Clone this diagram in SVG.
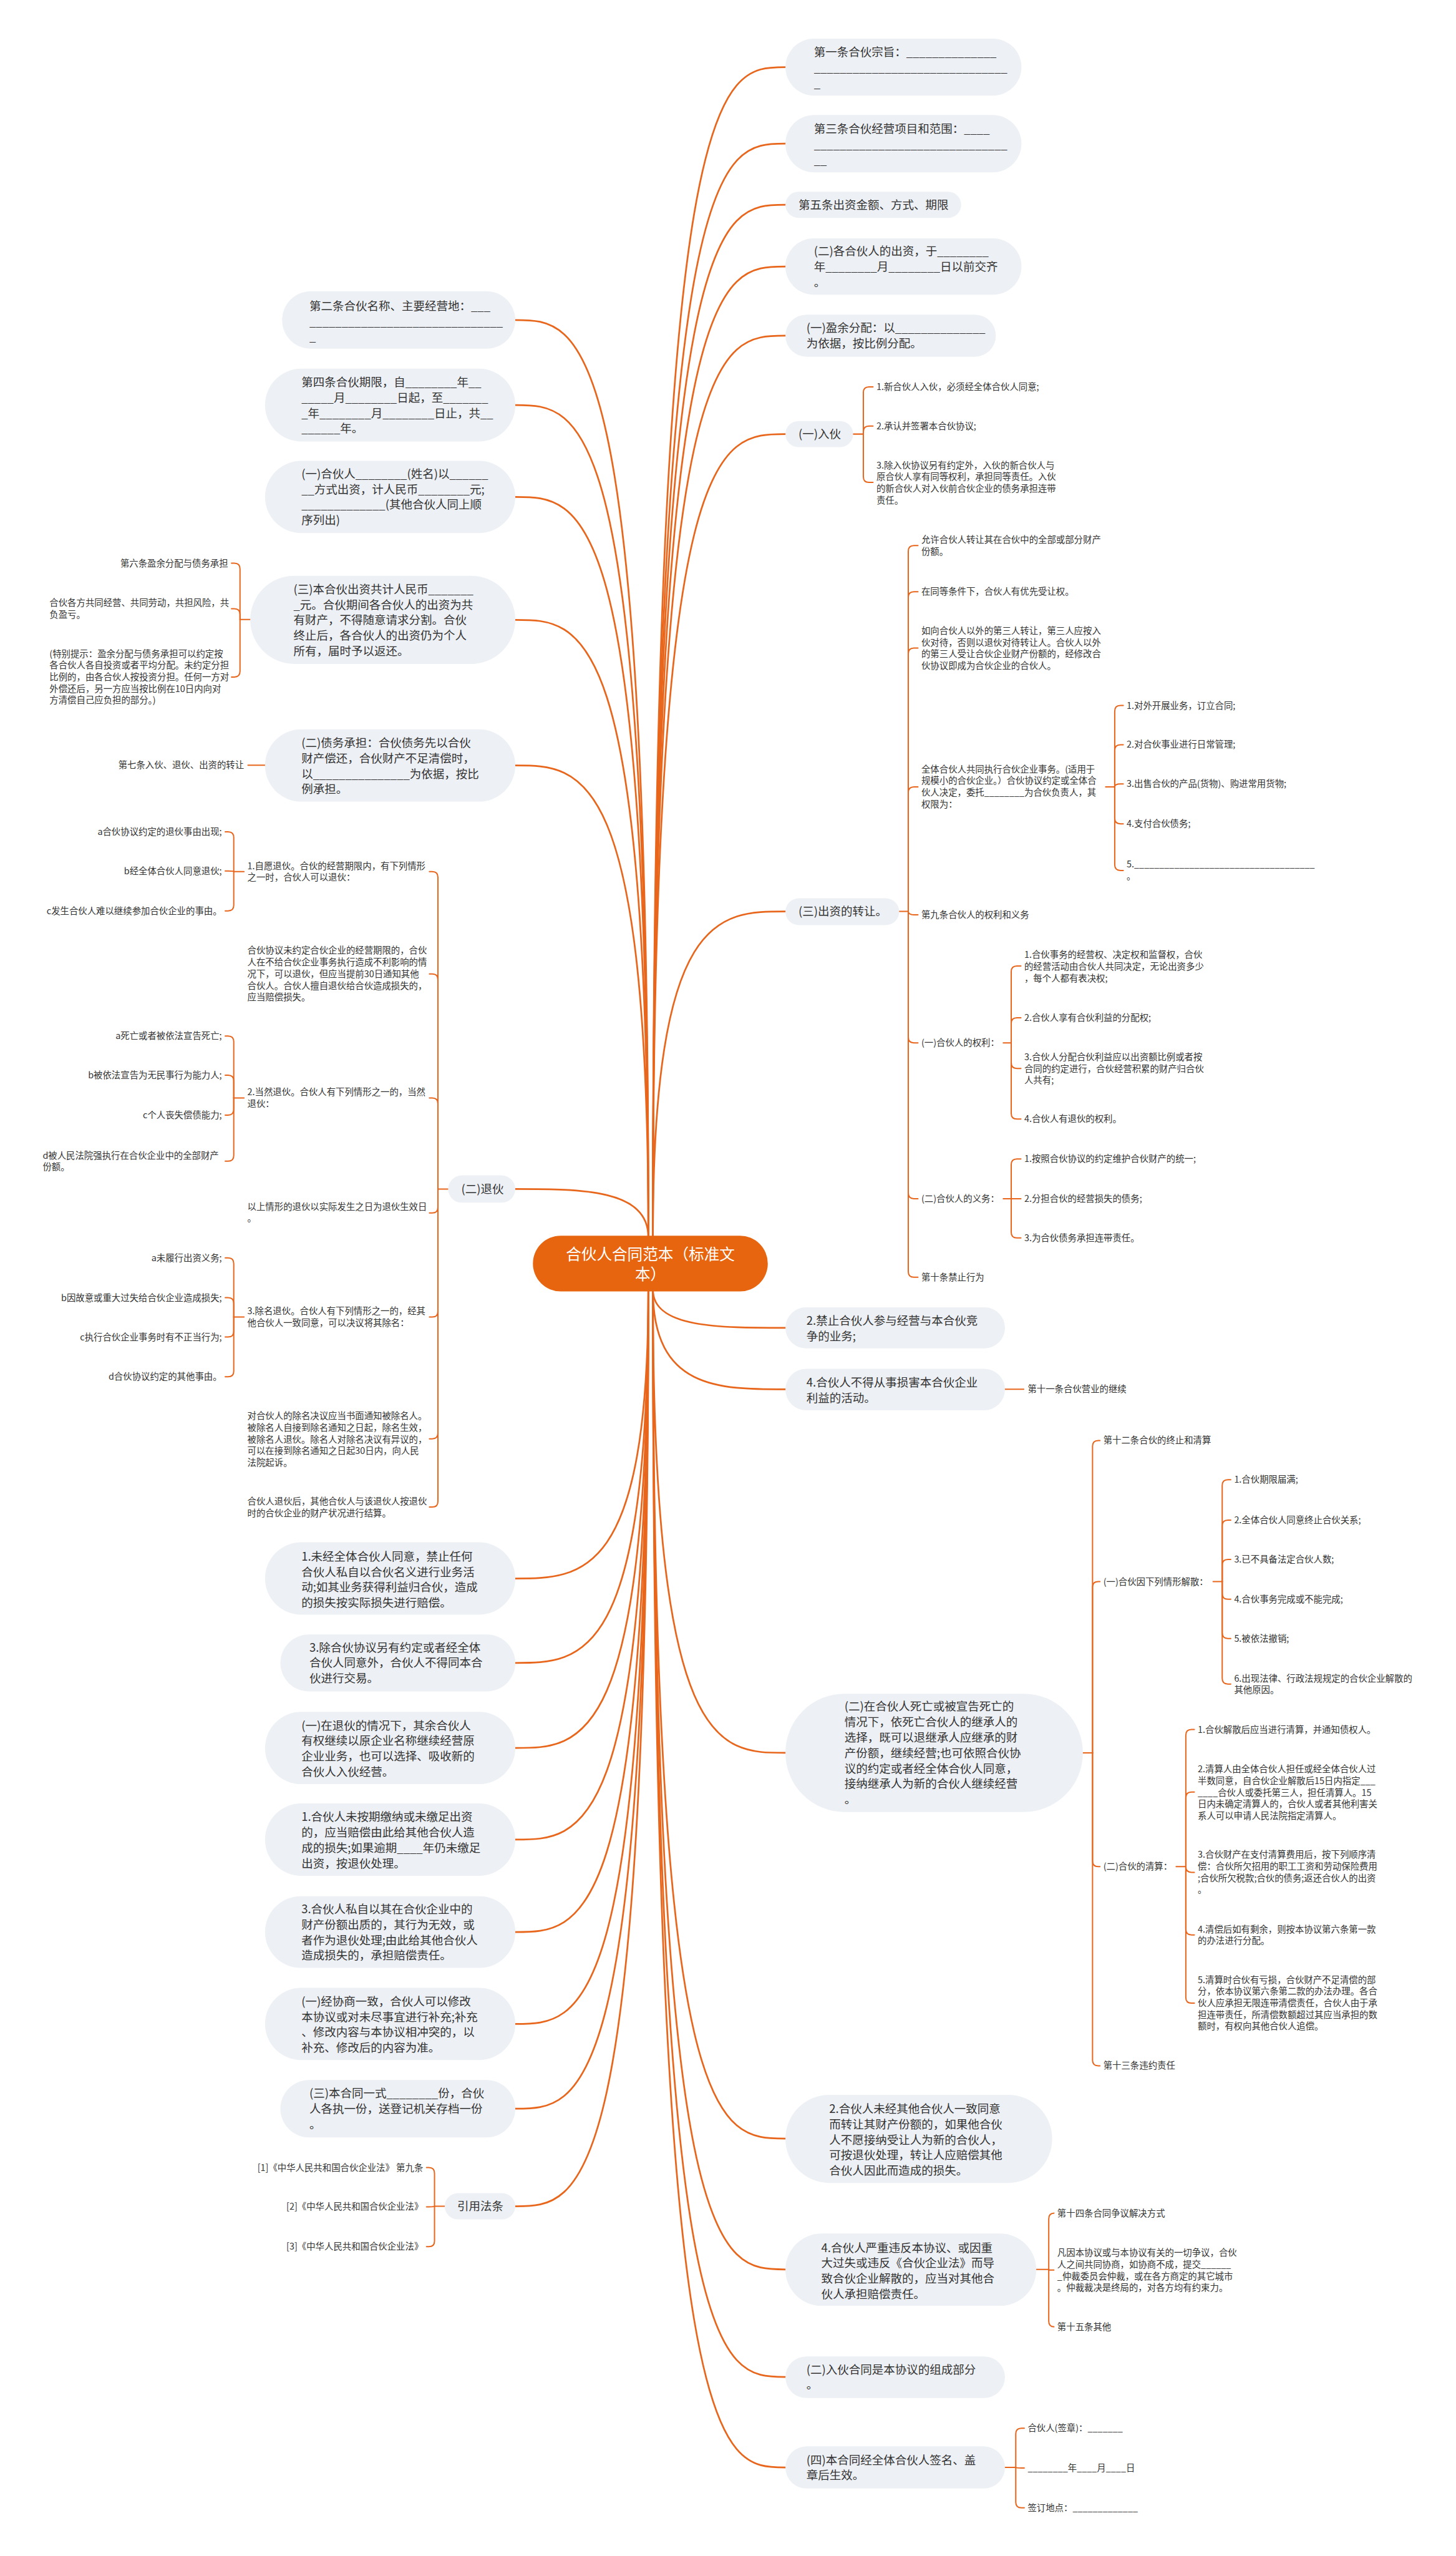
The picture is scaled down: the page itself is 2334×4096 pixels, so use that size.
<svg xmlns="http://www.w3.org/2000/svg" width="2334" height="4096" viewBox="0 0 2334 4096">
<style>
.box{fill:#edf0f4}
.root{fill:#e8650f}
.t0{font-family:"Noto Sans CJK SC",sans-serif;font-size:27px;fill:#fff}
.t1{font-family:"Noto Sans CJK SC",sans-serif;font-size:20.3px;fill:#333}
.t2{font-family:"Noto Sans CJK SC",sans-serif;font-size:15.8px;fill:#333}
.e{text-anchor:end}
#links path{fill:none;stroke:#e8661c;stroke-width:2.2;stroke-linecap:round}
#links .m{stroke-width:3}
</style>
<rect width="2334" height="4096" fill="#fff"/>
<g transform="scale(0.9117)">
<g id="links">
<!-- root connectors left -->
<path class="m" d="M1140 2175C1140 562.5 1023 562.5 906 562.5"/>
<path class="m" d="M1140 2175C1140 712 1023 712 906 712"/>
<path class="m" d="M1140 2175C1140 873.5 1023 873.5 906 873.5"/>
<path class="m" d="M1140 2175C1140 1089.5 1023 1089.5 906 1089.5"/>
<path class="m" d="M1140 2175C1140 1345.5 1023 1345.5 906 1345.5"/>
<path class="m" d="M1140 2175C1140 2090 1023 2090 906 2090"/>
<path class="m" d="M1140 2267C1140 2774.5 1023 2774.5 906 2774.5"/>
<path class="m" d="M1140 2267C1140 2923 1023 2923 906 2923"/>
<path class="m" d="M1140 2267C1140 3072.5 1023 3072.5 906 3072.5"/>
<path class="m" d="M1140 2267C1140 3233.5 1023 3233.5 906 3233.5"/>
<path class="m" d="M1140 2267C1140 3396 1023 3396 906 3396"/>
<path class="m" d="M1140 2267C1140 3557.5 1023 3557.5 906 3557.5"/>
<path class="m" d="M1140 2267C1140 3706.5 1023 3706.5 906 3706.5"/>
<path class="m" d="M1140 2267C1140 3878 1023 3878 906 3878"/>
<!-- root connectors right -->
<path class="m" d="M1148 2175C1148 118 1264 118 1381 118"/>
<path class="m" d="M1148 2175C1148 252.5 1264 252.5 1381 252.5"/>
<path class="m" d="M1148 2175C1148 360 1264 360 1381 360"/>
<path class="m" d="M1148 2175C1148 468.5 1264 468.5 1381 468.5"/>
<path class="m" d="M1148 2175C1148 590 1264 590 1381 590"/>
<path class="m" d="M1148 2175C1148 763 1264 763 1381 763"/>
<path class="m" d="M1148 2175C1148 1602 1264 1602 1381 1602"/>
<path class="m" d="M1148 2267C1148 2334 1264 2334 1381 2334"/>
<path class="m" d="M1148 2267C1148 2442 1264 2442 1381 2442"/>
<path class="m" d="M1148 2267C1148 3081 1264 3081 1381 3081"/>
<path class="m" d="M1148 2267C1148 3759 1264 3759 1381 3759"/>
<path class="m" d="M1148 2267C1148 3989 1264 3989 1381 3989"/>
<path class="m" d="M1148 2267C1148 4178 1264 4178 1381 4178"/>
<path class="m" d="M1148 2267C1148 4337 1264 4337 1381 4337"/>
<!-- (一)入伙 -->
<path d="M1500 763H1518"/>
<path d="M1518 763V690Q1518 680 1528 680H1535"/>
<path d="M1518 763V759Q1518 749 1528 749H1535"/>
<path d="M1518 763V838Q1518 848 1528 848H1535"/>
<!-- (三)出资的转让 -->
<path d="M1581 1602H1597"/>
<path d="M1597 1602V969Q1597 959 1607 959H1614"/>
<path d="M1597 1602V1050Q1597 1040 1607 1040H1614"/>
<path d="M1597 1602V1149Q1597 1139 1607 1139H1614"/>
<path d="M1597 1602V1393Q1597 1383 1607 1383H1614"/>
<path d="M1597 1602Q1597 1608 1607 1608H1614"/>
<path d="M1597 1602V1823Q1597 1833 1607 1833H1614"/>
<path d="M1597 1602V2097Q1597 2107 1607 2107H1614"/>
<path d="M1597 1602V2235Q1597 2245 1607 2245H1614"/>
<!-- 全体合伙人 -->
<path d="M1944 1383H1960"/>
<path d="M1960 1383V1250Q1960 1240 1970 1240H1975"/>
<path d="M1960 1383V1319Q1960 1309 1970 1309H1975"/>
<path d="M1960 1383Q1960 1378 1970 1378H1975"/>
<path d="M1960 1383V1438Q1960 1448 1970 1448H1975"/>
<path d="M1960 1383V1520Q1960 1530 1970 1530H1975"/>
<!-- 合伙人的权利 -->
<path d="M1764 1833H1778"/>
<path d="M1778 1833V1708Q1778 1698 1788 1698H1795"/>
<path d="M1778 1833V1799Q1778 1789 1788 1789H1795"/>
<path d="M1778 1833V1868Q1778 1878 1788 1878H1795"/>
<path d="M1778 1833V1957Q1778 1967 1788 1967H1795"/>
<!-- 合伙人的义务 -->
<path d="M1764 2107H1778"/>
<path d="M1778 2107V2047Q1778 2037 1788 2037H1795"/>
<path d="M1778 2107H1795"/>
<path d="M1778 2107V2166Q1778 2176 1788 2176H1795"/>
<!-- 4.不得 -->
<path d="M1767 2442H1800"/>
<!-- (二)在合伙人死亡 -->
<path d="M1904 3081H1921"/>
<path d="M1921 3081V2542Q1921 2532 1931 2532H1934"/>
<path d="M1921 3081V2790Q1921 2780 1931 2780H1934"/>
<path d="M1921 3081V3271Q1921 3281 1931 3281H1934"/>
<path d="M1921 3081V3621Q1921 3631 1931 3631H1934"/>
<!-- 解散 -->
<path d="M2133 2780H2149"/>
<path d="M2149 2780V2611Q2149 2601 2159 2601H2164"/>
<path d="M2149 2780V2682Q2149 2672 2159 2672H2164"/>
<path d="M2149 2780V2751Q2149 2741 2159 2741H2164"/>
<path d="M2149 2780V2801Q2149 2811 2159 2811H2164"/>
<path d="M2149 2780V2870Q2149 2880 2159 2880H2164"/>
<path d="M2149 2780V2950Q2149 2960 2159 2960H2164"/>
<!-- 清算 -->
<path d="M2068 3281H2085"/>
<path d="M2085 3281V3050Q2085 3040 2095 3040H2100"/>
<path d="M2085 3281V3160Q2085 3150 2095 3150H2100"/>
<path d="M2085 3281Q2085 3291 2095 3291H2100"/>
<path d="M2085 3281V3391Q2085 3401 2095 3401H2100"/>
<path d="M2085 3281V3511Q2085 3521 2095 3521H2100"/>
<!-- 4.严重 -->
<path d="M1822 3989H1844"/>
<path d="M1844 3989V3900Q1844 3890 1854 3890H1853"/>
<path d="M1844 3989V3990H1853"/>
<path d="M1844 3989V4080Q1844 4090 1854 4090H1853"/>
<!-- (四) -->
<path d="M1767 4337H1786"/>
<path d="M1786 4337V4278Q1786 4268 1796 4268H1801"/>
<path d="M1786 4337Q1786 4338 1796 4338H1801"/>
<path d="M1786 4337V4398Q1786 4408 1796 4408H1801"/>
<!-- L4 -->
<path d="M440 1089H422"/>
<path d="M422 1089V1000Q422 990 412 990H407"/>
<path d="M422 1089V1080Q422 1070 412 1070H407"/>
<path d="M422 1089V1180Q422 1190 412 1190H407"/>
<!-- L5 -->
<path d="M466 1345H436"/>
<!-- (二)退伙 -->
<path d="M788 2090H770"/>
<path d="M770 2090V1542Q770 1532 760 1532H755"/>
<path d="M770 2090V1722Q770 1712 760 1712H755"/>
<path d="M770 2090V1940Q770 1930 760 1930H755"/>
<path d="M770 2090V2122Q770 2132 760 2132H755"/>
<path d="M770 2090V2305Q770 2315 760 2315H755"/>
<path d="M770 2090V2519Q770 2529 760 2529H755"/>
<path d="M770 2090V2639Q770 2649 760 2649H755"/>
<!-- 自愿退伙 -->
<path d="M429 1532H411"/>
<path d="M411 1532V1472Q411 1462 401 1462H396"/>
<path d="M411 1532Q411 1531 401 1531H396"/>
<path d="M411 1532V1591Q411 1601 401 1601H396"/>
<!-- 当然退伙 -->
<path d="M429 1930H411"/>
<path d="M411 1930V1831Q411 1821 401 1821H396"/>
<path d="M411 1930V1900Q411 1890 401 1890H396"/>
<path d="M411 1930V1950Q411 1960 401 1960H396"/>
<path d="M411 1930V2031Q411 2041 401 2041H396"/>
<!-- 除名退伙 -->
<path d="M429 2315H411"/>
<path d="M411 2315V2221Q411 2211 401 2211H396"/>
<path d="M411 2315V2291Q411 2281 401 2281H396"/>
<path d="M411 2315V2340Q411 2350 401 2350H396"/>
<path d="M411 2315V2410Q411 2420 401 2420H396"/>
<!-- 引用法条 -->
<path d="M782 3878H764"/>
<path d="M764 3878V3820Q764 3810 754 3810H750"/>
<path d="M764 3878Q764 3879 754 3879H750"/>
<path d="M764 3878V3939Q764 3949 754 3949H750"/>
</g>

<g id="root">
<rect class="root" x="937" y="2172" width="413" height="98" rx="49"/>
<text class="t0" text-anchor="middle"><tspan x="1143.5" y="2214.5">合伙人合同范本（标准文</tspan><tspan x="1143.5" y="2249.5">本）</tspan></text>
</g>

<!-- right level-1 nodes -->
<g id="r1"><rect class="box" x="1381" y="68" width="415" height="100" rx="50"/>
<text class="t1"><tspan x="1431" y="99">第一条合伙宗旨：______________</tspan><tspan x="1431" y="126.2">______________________________</tspan><tspan x="1431" y="153.4">_</tspan></text></g>
<g id="r2"><rect class="box" x="1381" y="202" width="415" height="101" rx="50.5"/>
<text class="t1"><tspan x="1431" y="233.7">第三条合伙经营项目和范围：____</tspan><tspan x="1431" y="260.9">______________________________</tspan><tspan x="1431" y="288.1">__</tspan></text></g>
<g id="r3"><rect class="box" x="1381" y="337" width="309" height="46" rx="23"/>
<text class="t1" x="1404" y="367">第五条出资金额、方式、期限</text></g>
<g id="r4"><rect class="box" x="1381" y="419" width="415" height="99" rx="49.5"/>
<text class="t1"><tspan x="1431" y="449">(二)各合伙人的出资，于________</tspan><tspan x="1431" y="476.2">年________月________日以前交齐</tspan><tspan x="1431" y="503.4">。</tspan></text></g>
<g id="r5"><rect class="box" x="1381" y="553" width="370" height="74" rx="37"/>
<text class="t1"><tspan x="1418" y="584">(一)盈余分配：以______________</tspan><tspan x="1418" y="611.2">为依据，按比例分配。</tspan></text></g>
<g id="r6"><rect class="box" x="1381" y="740" width="119" height="46" rx="23"/>
<text class="t1" x="1404" y="770">(一)入伙</text></g>
<g id="r6c">
<text class="t2" x="1541" y="685.5">1.新合伙人入伙，必须经全体合伙人同意;</text>
<text class="t2" x="1541" y="754.5">2.承认并签署本合伙协议;</text>
<text class="t2"><tspan x="1541" y="823.5">3.除入伙协议另有约定外，入伙的新合伙人与</tspan><tspan x="1541" y="844">原合伙人享有同等权利，承担同等责任。入伙</tspan><tspan x="1541" y="864.5">的新合伙人对入伙前合伙企业的债务承担连带</tspan><tspan x="1541" y="885">责任。</tspan></text>
</g>
<g id="r7"><rect class="box" x="1381" y="1579" width="200" height="47" rx="23.5"/>
<text class="t1" x="1404" y="1609">(三)出资的转让。</text></g>
<g id="r7c">
<text class="t2"><tspan x="1620" y="954.5">允许合伙人转让其在合伙中的全部或部分财产</tspan><tspan x="1620" y="975">份额。</tspan></text>
<text class="t2" x="1620" y="1045.5">在同等条件下，合伙人有优先受让权。</text>
<text class="t2"><tspan x="1620" y="1114.5">如向合伙人以外的第三人转让，第三人应按入</tspan><tspan x="1620" y="1135">伙对待，否则以退伙对待转让人。合伙人以外</tspan><tspan x="1620" y="1155.5">的第三人受让合伙企业财产份额的，经修改合</tspan><tspan x="1620" y="1176">伙协议即成为合伙企业的合伙人。</tspan></text>
<text class="t2"><tspan x="1620" y="1357.5">全体合伙人共同执行合伙企业事务。(适用于</tspan><tspan x="1620" y="1378">规模小的合伙企业。）合伙协议约定或全体合</tspan><tspan x="1620" y="1398.5">伙人决定，委托________为合伙负责人，其</tspan><tspan x="1620" y="1419">权限为：</tspan></text>
<text class="t2" x="1981" y="1245.5">1.对外开展业务，订立合同;</text>
<text class="t2" x="1981" y="1314.5">2.对合伙事业进行日常管理;</text>
<text class="t2" x="1981" y="1383.5">3.出售合伙的产品(货物)、购进常用货物;</text>
<text class="t2" x="1981" y="1453.5">4.支付合伙债务;</text>
<text class="t2"><tspan x="1981" y="1525">5.____________________________________</tspan><tspan x="1981" y="1545.5">。</tspan></text>
<text class="t2" x="1620" y="1613.5">第九条合伙人的权利和义务</text>
<text class="t2" x="1620" y="1838.5">(一)合伙人的权利：</text>
<text class="t2"><tspan x="1801" y="1684">1.合伙事务的经营权、决定权和监督权，合伙</tspan><tspan x="1801" y="1704.5">的经营活动由合伙人共同决定，无论出资多少</tspan><tspan x="1801" y="1725">，每个人都有表决权;</tspan></text>
<text class="t2" x="1801" y="1794.5">2.合伙人享有合伙利益的分配权;</text>
<text class="t2"><tspan x="1801" y="1863.5">3.合伙人分配合伙利益应以出资额比例或者按</tspan><tspan x="1801" y="1884">合同的约定进行，合伙经营积累的财产归合伙</tspan><tspan x="1801" y="1904.5">人共有;</tspan></text>
<text class="t2" x="1801" y="1972.5">4.合伙人有退伙的权利。</text>
<text class="t2" x="1620" y="2112.5">(二)合伙人的义务：</text>
<text class="t2" x="1801" y="2042.5">1.按照合伙协议的约定维护合伙财产的统一;</text>
<text class="t2" x="1801" y="2112.5">2.分担合伙的经营损失的债务;</text>
<text class="t2" x="1801" y="2181.5">3.为合伙债务承担连带责任。</text>
<text class="t2" x="1620" y="2250.5">第十条禁止行为</text>
</g>
<g id="r8"><rect class="box" x="1381" y="2298" width="386" height="72" rx="36"/>
<text class="t1"><tspan x="1418" y="2329">2.禁止合伙人参与经营与本合伙竞</tspan><tspan x="1418" y="2356.2">争的业务;</tspan></text></g>
<g id="r9"><rect class="box" x="1381" y="2406" width="386" height="73" rx="36.5"/>
<text class="t1"><tspan x="1418" y="2437">4.合伙人不得从事损害本合伙企业</tspan><tspan x="1418" y="2464.2">利益的活动。</tspan></text>
<text class="t2" x="1807" y="2447.5">第十一条合伙营业的继续</text></g>
<g id="r10"><rect class="box" x="1381" y="2977" width="523" height="208" rx="104"/>
<text class="t1"><tspan x="1485" y="3007">(二)在合伙人死亡或被宣告死亡的</tspan><tspan x="1485" y="3034.2">情况下，依死亡合伙人的继承人的</tspan><tspan x="1485" y="3061.4">选择，既可以退继承人应继承的财</tspan><tspan x="1485" y="3088.6">产份额，继续经营;也可依照合伙协</tspan><tspan x="1485" y="3115.8">议的约定或者经全体合伙人同意，</tspan><tspan x="1485" y="3143">接纳继承人为新的合伙人继续经营</tspan><tspan x="1485" y="3170.2">。</tspan></text></g>
<g id="r10c">
<text class="t2" x="1940" y="2537.5">第十二条合伙的终止和清算</text>
<text class="t2" x="1940" y="2785.5">(一)合伙因下列情形解散：</text>
<text class="t2" x="2170" y="2606.5">1.合伙期限届满;</text>
<text class="t2" x="2170" y="2677.5">2.全体合伙人同意终止合伙关系;</text>
<text class="t2" x="2170" y="2746.5">3.已不具备法定合伙人数;</text>
<text class="t2" x="2170" y="2816.5">4.合伙事务完成或不能完成;</text>
<text class="t2" x="2170" y="2885.5">5.被依法撤销;</text>
<text class="t2"><tspan x="2170" y="2955.5">6.出现法律、行政法规规定的合伙企业解散的</tspan><tspan x="2170" y="2976">其他原因。</tspan></text>
<text class="t2" x="1940" y="3286.5">(二)合伙的清算：</text>
<text class="t2" x="2106" y="3045.5">1.合伙解散后应当进行清算，并通知债权人。</text>
<text class="t2"><tspan x="2106" y="3115.5">2.清算人由全体合伙人担任或经全体合伙人过</tspan><tspan x="2106" y="3136">半数同意，自合伙企业解散后15日内指定___</tspan><tspan x="2106" y="3156.5">____合伙人或委托第三人，担任清算人。15</tspan><tspan x="2106" y="3177">日内未确定清算人的，合伙人或者其他利害关</tspan><tspan x="2106" y="3197.5">系人可以申请人民法院指定清算人。</tspan></text>
<text class="t2"><tspan x="2106" y="3265.5">3.合伙财产在支付清算费用后，按下列顺序清</tspan><tspan x="2106" y="3286">偿：合伙所欠招用的职工工资和劳动保险费用</tspan><tspan x="2106" y="3306.5">;合伙所欠税款;合伙的债务;返还合伙人的出资</tspan><tspan x="2106" y="3327">。</tspan></text>
<text class="t2"><tspan x="2106" y="3396.5">4.清偿后如有剩余，则按本协议第六条第一款</tspan><tspan x="2106" y="3417">的办法进行分配。</tspan></text>
<text class="t2"><tspan x="2106" y="3485.5">5.清算时合伙有亏损，合伙财产不足清偿的部</tspan><tspan x="2106" y="3506">分，依本协议第六条第二款的办法办理。各合</tspan><tspan x="2106" y="3526.5">伙人应承担无限连带清偿责任，合伙人由于承</tspan><tspan x="2106" y="3547">担连带责任，所清偿数额超过其应当承担的数</tspan><tspan x="2106" y="3567.5">额时，有权向其他合伙人追偿。</tspan></text>
<text class="t2" x="1940" y="3636.5">第十三条违约责任</text>
</g>
<g id="r11"><rect class="box" x="1381" y="3682" width="469" height="155" rx="77.5"/>
<text class="t1"><tspan x="1458" y="3714">2.合伙人未经其他合伙人一致同意</tspan><tspan x="1458" y="3741.2">而转让其财产份额的，如果他合伙</tspan><tspan x="1458" y="3768.4">人不愿接纳受让人为新的合伙人，</tspan><tspan x="1458" y="3795.6">可按退伙处理，转让人应赔偿其他</tspan><tspan x="1458" y="3822.8">合伙人因此而造成的损失。</tspan></text></g>
<g id="r12"><rect class="box" x="1381" y="3926" width="441" height="127" rx="63.5"/>
<text class="t1"><tspan x="1444" y="3958">4.合伙人严重违反本协议、或因重</tspan><tspan x="1444" y="3985.2">大过失或违反《合伙企业法》而导</tspan><tspan x="1444" y="4012.4">致合伙企业解散的，应当对其他合</tspan><tspan x="1444" y="4039.6">伙人承担赔偿责任。</tspan></text></g>
<g id="r12c">
<text class="t2" x="1859" y="3895.5">第十四条合同争议解决方式</text>
<text class="t2"><tspan x="1859" y="3965.5">凡因本协议或与本协议有关的一切争议，合伙</tspan><tspan x="1859" y="3986">人之间共同协商，如协商不成，提交______</tspan><tspan x="1859" y="4006.5">_仲裁委员会仲裁，或在各方商定的其它城市</tspan><tspan x="1859" y="4027">。仲裁裁决是终局的，对各方均有约束力。</tspan></text>
<text class="t2" x="1859" y="4095.5">第十五条其他</text>
</g>
<g id="r13"><rect class="box" x="1381" y="4142" width="386" height="73" rx="36.5"/>
<text class="t1"><tspan x="1418" y="4172">(二)入伙合同是本协议的组成部分</tspan><tspan x="1418" y="4199.2">。</tspan></text></g>
<g id="r14"><rect class="box" x="1381" y="4300" width="386" height="74" rx="37"/>
<text class="t1"><tspan x="1418" y="4331">(四)本合同经全体合伙人签名、盖</tspan><tspan x="1418" y="4358.2">章后生效。</tspan></text></g>
<g id="r14c">
<text class="t2" x="1807" y="4273.5">合伙人(签章)：_______</text>
<text class="t2" x="1807" y="4343.5">________年____月____日</text>
<text class="t2" x="1807" y="4413.5">签订地点：_____________</text>
</g>

<!-- left level-1 nodes -->
<g id="l1"><rect class="box" x="496" y="512" width="410" height="101" rx="50.5"/>
<text class="t1"><tspan x="544" y="545">第二条合伙名称、主要经营地：___</tspan><tspan x="544" y="572.2">______________________________</tspan><tspan x="544" y="599.4">_</tspan></text></g>
<g id="l2"><rect class="box" x="466" y="648" width="440" height="128" rx="64"/>
<text class="t1"><tspan x="530" y="679">第四条合伙期限，自________年__</tspan><tspan x="530" y="706.2">_____月________日起，至_______</tspan><tspan x="530" y="733.4">_年________月________日止，共__</tspan><tspan x="530" y="760.6">______年。</tspan></text></g>
<g id="l3"><rect class="box" x="466" y="810" width="440" height="127" rx="63.5"/>
<text class="t1"><tspan x="530" y="840">(一)合伙人________(姓名)以______</tspan><tspan x="530" y="867.2">__方式出资，计人民币________元;</tspan><tspan x="530" y="894.4">_____________(其他合伙人同上顺</tspan><tspan x="530" y="921.6">序列出)</tspan></text></g>
<g id="l4"><rect class="box" x="440" y="1012" width="466" height="155" rx="77.5"/>
<text class="t1"><tspan x="516" y="1043">(三)本合伙出资共计人民币_______</tspan><tspan x="516" y="1070.2">_元。合伙期间各合伙人的出资为共</tspan><tspan x="516" y="1097.4">有财产，不得随意请求分割。合伙</tspan><tspan x="516" y="1124.6">终止后，各合伙人的出资仍为个人</tspan><tspan x="516" y="1151.8">所有，届时予以返还。</tspan></text></g>
<g id="l4c">
<text class="t2 e" x="401" y="995.5">第六条盈余分配与债务承担</text>
<text class="t2"><tspan x="87" y="1065.5">合伙各方共同经营、共同劳动，共担风险，共</tspan><tspan x="87" y="1086">负盈亏。</tspan></text>
<text class="t2"><tspan x="87" y="1154.5">(特别提示：盈余分配与债务承担可以约定按</tspan><tspan x="87" y="1175">各合伙人各自投资或者平均分配。未约定分担</tspan><tspan x="87" y="1195.5">比例的，由各合伙人按投资分担。任何一方对</tspan><tspan x="87" y="1216">外偿还后，另一方应当按比例在10日内向对</tspan><tspan x="87" y="1236.5">方清偿自己应负担的部分。)</tspan></text>
</g>
<g id="l5"><rect class="box" x="466" y="1282" width="440" height="127" rx="63.5"/>
<text class="t1"><tspan x="530" y="1313">(二)债务承担：合伙债务先以合伙</tspan><tspan x="530" y="1340.2">财产偿还，合伙财产不足清偿时，</tspan><tspan x="530" y="1367.4">以_______________为依据，按比</tspan><tspan x="530" y="1394.6">例承担。</tspan></text>
<text class="t2 e" x="429" y="1350.5">第七条入伙、退伙、出资的转让</text></g>
<g id="l6"><rect class="box" x="788" y="2066" width="118" height="48" rx="24"/>
<text class="t1" x="811" y="2097">(二)退伙</text></g>
<g id="l6c">
<text class="t2"><tspan x="435" y="1527.5">1.自愿退伙。合伙的经营期限内，有下列情形</tspan><tspan x="435" y="1548">之一时，合伙人可以退伙：</tspan></text>
<text class="t2 e" x="390" y="1467.5">a合伙协议约定的退伙事由出现;</text>
<text class="t2 e" x="390" y="1536.5">b经全体合伙人同意退伙;</text>
<text class="t2 e" x="390" y="1606.5">c发生合伙人难以继续参加合伙企业的事由。</text>
<text class="t2"><tspan x="435" y="1676.5">合伙协议未约定合伙企业的经营期限的，合伙</tspan><tspan x="435" y="1697">人在不给合伙企业事务执行造成不利影响的情</tspan><tspan x="435" y="1717.5">况下，可以退伙，但应当提前30日通知其他</tspan><tspan x="435" y="1738">合伙人。合伙人擅自退伙给合伙造成损失的，</tspan><tspan x="435" y="1758.5">应当赔偿损失。</tspan></text>
<text class="t2"><tspan x="435" y="1925.5">2.当然退伙。合伙人有下列情形之一的，当然</tspan><tspan x="435" y="1946">退伙：</tspan></text>
<text class="t2 e" x="390" y="1826.5">a死亡或者被依法宣告死亡;</text>
<text class="t2 e" x="390" y="1895.5">b被依法宣告为无民事行为能力人;</text>
<text class="t2 e" x="390" y="1965.5">c个人丧失偿债能力;</text>
<text class="t2"><tspan x="75" y="2036.5">d被人民法院强执行在合伙企业中的全部财产</tspan><tspan x="75" y="2057">份额。</tspan></text>
<text class="t2"><tspan x="435" y="2126.5">以上情形的退伙以实际发生之日为退伙生效日</tspan><tspan x="435" y="2147">。</tspan></text>
<text class="t2"><tspan x="435" y="2310.5">3.除名退伙。合伙人有下列情形之一的，经其</tspan><tspan x="435" y="2331">他合伙人一致同意，可以决议将其除名：</tspan></text>
<text class="t2 e" x="390" y="2216.5">a未履行出资义务;</text>
<text class="t2 e" x="390" y="2286.5">b因故意或重大过失给合伙企业造成损失;</text>
<text class="t2 e" x="390" y="2355.5">c执行合伙企业事务时有不正当行为;</text>
<text class="t2 e" x="390" y="2425.5">d合伙协议约定的其他事由。</text>
<text class="t2"><tspan x="435" y="2494.5">对合伙人的除名决议应当书面通知被除名人。</tspan><tspan x="435" y="2515">被除名人自接到除名通知之日起，除名生效，</tspan><tspan x="435" y="2535.5">被除名人退伙。除名人对除名决议有异议的，</tspan><tspan x="435" y="2556">可以在接到除名通知之日起30日内，向人民</tspan><tspan x="435" y="2576.5">法院起诉。</tspan></text>
<text class="t2"><tspan x="435" y="2644.5">合伙人退伙后，其他合伙人与该退伙人按退伙</tspan><tspan x="435" y="2665">时的合伙企业的财产状况进行结算。</tspan></text>
</g>
<g id="l7"><rect class="box" x="466" y="2711" width="440" height="127" rx="63.5"/>
<text class="t1"><tspan x="530" y="2743">1.未经全体合伙人同意，禁止任何</tspan><tspan x="530" y="2770.2">合伙人私自以合伙名义进行业务活</tspan><tspan x="530" y="2797.4">动;如其业务获得利益归合伙，造成</tspan><tspan x="530" y="2824.6">的损失按实际损失进行赔偿。</tspan></text></g>
<g id="l8"><rect class="box" x="493" y="2873" width="413" height="100" rx="50"/>
<text class="t1"><tspan x="544" y="2903">3.除合伙协议另有约定或者经全体</tspan><tspan x="544" y="2930.2">合伙人同意外，合伙人不得同本合</tspan><tspan x="544" y="2957.4">伙进行交易。</tspan></text></g>
<g id="l9"><rect class="box" x="466" y="3009" width="440" height="127" rx="63.5"/>
<text class="t1"><tspan x="530" y="3040">(一)在退伙的情况下，其余合伙人</tspan><tspan x="530" y="3067.2">有权继续以原企业名称继续经营原</tspan><tspan x="530" y="3094.4">企业业务，也可以选择、吸收新的</tspan><tspan x="530" y="3121.6">合伙人入伙经营。</tspan></text></g>
<g id="l10"><rect class="box" x="466" y="3170" width="440" height="127" rx="63.5"/>
<text class="t1"><tspan x="530" y="3201">1.合伙人未按期缴纳或未缴足出资</tspan><tspan x="530" y="3228.2">的，应当赔偿由此给其他合伙人造</tspan><tspan x="530" y="3255.4">成的损失;如果逾期____年仍未缴足</tspan><tspan x="530" y="3282.6">出资，按退伙处理。</tspan></text></g>
<g id="l11"><rect class="box" x="466" y="3333" width="440" height="126" rx="63"/>
<text class="t1"><tspan x="530" y="3363">3.合伙人私自以其在合伙企业中的</tspan><tspan x="530" y="3390.2">财产份额出质的，其行为无效，或</tspan><tspan x="530" y="3417.4">者作为退伙处理;由此给其他合伙人</tspan><tspan x="530" y="3444.6">造成损失的，承担赔偿责任。</tspan></text></g>
<g id="l12"><rect class="box" x="466" y="3494" width="440" height="127" rx="63.5"/>
<text class="t1"><tspan x="530" y="3525">(一)经协商一致，合伙人可以修改</tspan><tspan x="530" y="3552.2">本协议或对未尽事宜进行补充;补充</tspan><tspan x="530" y="3579.4">、修改内容与本协议相冲突的，以</tspan><tspan x="530" y="3606.6">补充、修改后的内容为准。</tspan></text></g>
<g id="l13"><rect class="box" x="493" y="3656" width="413" height="101" rx="50.5"/>
<text class="t1"><tspan x="544" y="3687">(三)本合同一式________份，合伙</tspan><tspan x="544" y="3714.2">人各执一份，送登记机关存档一份</tspan><tspan x="544" y="3741.4">。</tspan></text></g>
<g id="l14"><rect class="box" x="782" y="3855" width="124" height="46" rx="23"/>
<text class="t1" x="804" y="3885">引用法条</text>
<text class="t2 e" x="744" y="3815.5">[1]《中华人民共和国合伙企业法》 第九条</text>
<text class="t2 e" x="744" y="3884.5">[2]《中华人民共和国合伙企业法》</text>
<text class="t2 e" x="744" y="3954.5">[3]《中华人民共和国合伙企业法》</text></g>
</g>
</svg>
